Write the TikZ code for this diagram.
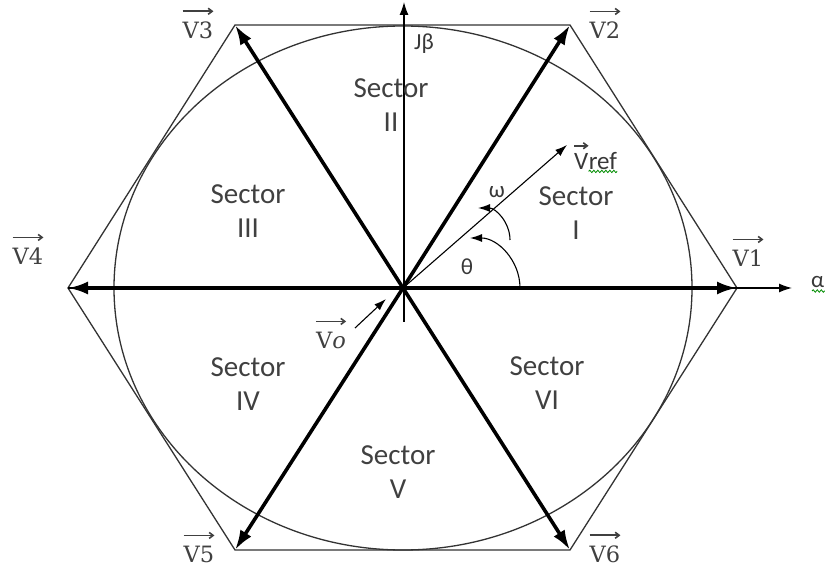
\documentclass[tikz,border=0pt]{standalone}
\usepackage{fontspec}
\setsansfont{Carlito}
\newfontfamily\vecfont{DejaVu Serif}
\usetikzlibrary{arrows.meta,decorations.pathmorphing}
\tikzstyle{vec} = [line width=3.6pt, -{Latex[length=20pt,width=13pt]}]
\tikzstyle{axis} = [line width=1.3pt, -{Latex[length=13pt,width=9pt]}]
\tikzstyle{thinarrow} = [line width=1.1pt, -{Latex[length=12pt,width=8pt]}]
\tikzstyle{lbl} = [text=black!75, inner sep=0pt, font=\vecfont\fontsize{22.5}{25}\selectfont]
\tikzstyle{overarrow} = [black!75, line width=1.6pt, -{Straight Barb[length=4pt,width=6pt]}]
\tikzstyle{sec} = [text=black!75, align=center, inner sep=0pt, font=\sffamily\fontsize{29}{34}\selectfont]
\tikzstyle{greek} = [text=black!78, inner sep=0pt, font=\sffamily\fontsize{23}{25}\selectfont]
\tikzstyle{spell} = [green!55!black, line width=0.8pt, decorate, decoration={snake, amplitude=1.2pt, segment length=4pt}]

\begin{document}
\begin{tikzpicture}[x=1pt,y=1pt]
\useasboundingbox (0,0) rectangle (825,571);

% points of the hexagon
\coordinate (O) at (403,283);
\coordinate (v1) at (737,283);
\coordinate (v2) at (570,546);
\coordinate (v3) at (235,546);
\coordinate (v4) at (68,283);
\coordinate (v5) at (235,21);
\coordinate (v6) at (570,21);

\draw[black!80, line width=1.3pt] (O) ellipse[x radius=289, y radius=262];
\draw[black!80, line width=1.3pt] (v1) -- (v2) -- (v3) -- (v4) -- (v5) -- (v6) -- cycle;

% axes
\coordinate (aend) at (792,283);
\coordinate (bbot) at (404,249);
\coordinate (bend) at (404,569);
\draw[axis] (v4) -- (aend);
\draw[axis] (bbot) -- (bend);

% switching vectors
\foreach \v in {v1,v2,v3,v4,v5,v6}
    \draw[vec] (O) -- (\v);

% reference vector and angles
\coordinate (vref) at (567,426);
\draw[thinarrow] (O) -- (vref);
\draw[thinarrow] (520,283) arc[start angle=0, end angle=90, radius=50];
\draw[thinarrow] (510,331) arc[start angle=0, end angle=90, radius=32];

% vector names
\node[lbl] (l1) at (748,313) {V1};
\node[lbl] (l2) at (605,541) {V2};
\node[lbl] (l3) at (198,541) {V3};
\node[lbl] (l4) at (28,315) {V4};
\node[lbl] (l5) at (199,17) {V5};
\node[lbl] (l6) at (605,17) {V6};
\node[lbl] (lo) at (331,231) {V\textit{o}};
\foreach \l in {l1,l2,l3,l4,l5,l6,lo}
    \draw[overarrow] ([yshift=10pt]\l.north west) -- ([yshift=10pt]\l.north east);
\coordinate (ostart) at (355,243);
\coordinate (oend) at (386,272);
\draw[thinarrow] (ostart) -- (oend);

\node[greek, anchor=west, font=\sffamily\fontsize{25}{27}\selectfont] (lrefv) at (574,410) {V};
\node[greek, anchor=base west, font=\sffamily\fontsize{25}{27}\selectfont] (lrefr) at (lrefv.base east) {ref};
\draw[overarrow] ([yshift=7pt]lrefv.north west) -- ([yshift=7pt]lrefv.north east);
\draw[spell] ([yshift=-2pt]lrefr.south west) -- ([yshift=-2pt]lrefr.south east);
\node[greek] (lth) at (467,304) {θ};
\node[greek] (lom) at (497,379) {ω};
\node[greek] (lb) at (424,527) {Jβ};
\node[greek, anchor=west] (la) at (811,289) {α};
\draw[spell] (812,280) -- (826,280);

% sectors
\node[sec] (s1) at (576,358) {Sector\\I};
\node[sec] (s2) at (391,466) {Sector\\II};
\node[sec] (s3) at (248,360) {Sector\\III};
\node[sec] (s4) at (248,187) {Sector\\IV};
\node[sec] (s5) at (398,99) {Sector\\V};
\node[sec] (s6) at (547,188) {Sector\\VI};
\end{tikzpicture}
\end{document}
